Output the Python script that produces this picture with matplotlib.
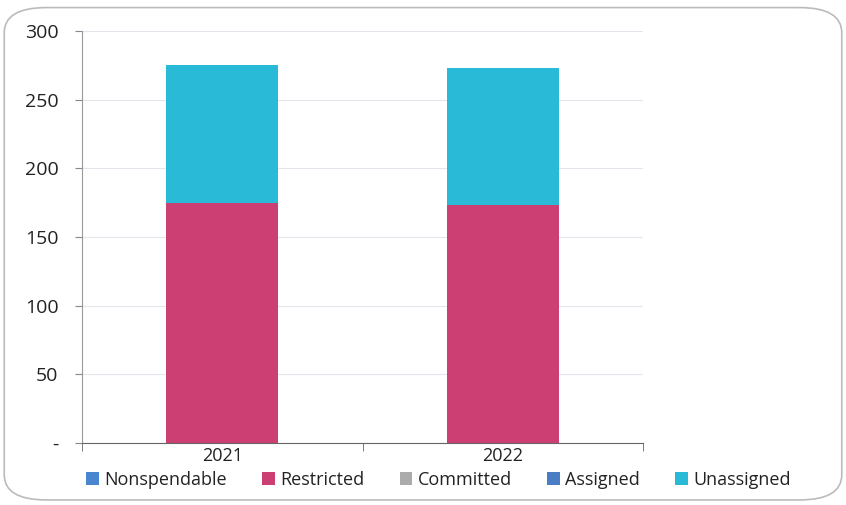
import numpy as np
import matplotlib.pyplot as plt
from matplotlib.patches import FancyBboxPatch

years = ["2021", "2022"]
series = ["Nonspendable", "Restricted", "Committed", "Assigned", "Unassigned"]
nonspendable = [0, 0]
restricted = [175, 173]
committed = [0, 0]
assigned = [0, 0]
unassigned = [100, 100]
colors = ["#4A86CF", "#CC3F73", "#ABABAB", "#4A7EC4", "#28BAD6"]

plt.rcParams['font.family'] = ['Open Sans', 'DejaVu Sans']

fig = plt.figure(figsize=(8.46, 5.05), dpi=100)
ax = fig.add_axes([82/846, 1-443/505, (643-82)/846, (443-31)/505])

x = np.arange(len(years))
bottom = np.zeros(len(years))
for name, vals, c in zip(series, [nonspendable, restricted, committed, assigned, unassigned], colors):
    ax.bar(x, vals, 0.4, bottom=bottom, color=c, label=name, zorder=3)
    bottom += np.array(vals)

ax.set_xlim(-0.5, 1.5)
ax.set_ylim(0, 300)
ax.set_yticks(np.arange(0, 301, 50))
ax.set_yticklabels(["-"] + [str(v) for v in range(50, 301, 50)], fontsize=14, color="#222222")
ax.set_xticks(x)
ax.set_xticklabels(years, fontsize=13, color="#222222")
ax.set_xticks([-0.5, 0.5, 1.5], minor=True)
ax.tick_params(axis="x", which="major", length=0, pad=3)
ax.tick_params(axis="x", which="minor", length=6, color="#666666", direction="out")
ax.tick_params(axis="y", length=5, color="#888888", pad=12)
ax.grid(axis="y", color="#e4e4ec", linewidth=0.8, zorder=0)
for s in ["top", "right"]:
    ax.spines[s].set_visible(False)
ax.spines["left"].set_color("#999999")
ax.spines["bottom"].set_color("#666666")

leg = ax.legend(loc="center left", bbox_to_anchor=(-0.005, -0.09), ncol=5, frameon=False,
                fontsize=13, handlelength=0.7, handleheight=0.7, handletextpad=0.3,
                columnspacing=1.95, borderaxespad=0)
for t in leg.get_texts():
    t.set_color("#222222")

border = FancyBboxPatch((0.005, 0.01), 0.99, 0.975, boxstyle="round,pad=0,rounding_size=0.05",
                        transform=fig.transFigure, fill=False, edgecolor="#bbbbbb", linewidth=1.2)
fig.patches.append(border)

fig.savefig("out.png", dpi=100)
